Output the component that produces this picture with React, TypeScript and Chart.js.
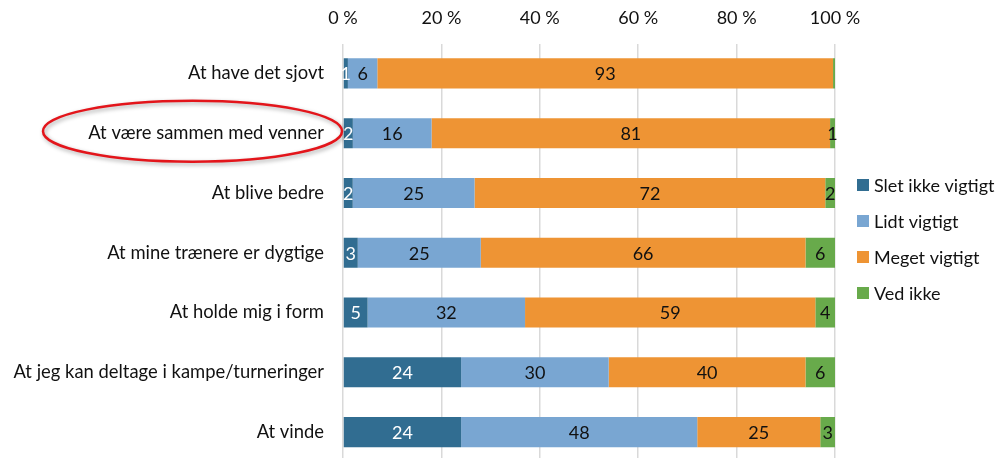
import React, { useEffect, useRef } from "react";
import { Chart, registerables } from "chart.js";

Chart.register(...registerables);

// Categories, top to bottom
const categories = [
  "At have det sjovt",
  "At være sammen med venner",
  "At blive bedre",
  "At mine trænere er dygtige",
  "At holde mig i form",
  "At jeg kan deltage i kampe/turneringer",
  "At vinde",
];

const seriesNames = ["Slet ikke vigtigt", "Lidt vigtigt", "Meget vigtigt", "Ved ikke"];
const seriesColors = ["#316d91", "#79a6d2", "#ee9434", "#68aa4b"];

// Answer shares in percent
const sletIkkeVigtigt = [1, 2, 2, 3, 5, 24, 24];
const lidtVigtigt = [6, 16, 25, 25, 32, 30, 48];
const megetVigtigt = [93, 81, 72, 66, 59, 40, 25];
const vedIkke = [0.4, 1, 2, 6, 4, 6, 3];

const xTicks = [0, 20, 40, 60, 80, 100];
const highlightedCategory = "At være sammen med venner";

const FONT = 'Lato, "Open Sans", sans-serif';
const TEXT = "#111111";

const series = [sletIkkeVigtigt, lidtVigtigt, megetVigtigt, vedIkke];

// Row totals, used to scale each row to 100 % (stacked percent bars)
const rowTotals = categories.map((_, i) => series.reduce((s, arr) => s + arr[i], 0));

const valueLabels = {
  id: "valueLabels",
  afterDatasetsDraw(chart: any) {
    const ctx = chart.ctx;
    ctx.save();
    ctx.font = `18px ${FONT}`;
    ctx.textAlign = "center";
    ctx.textBaseline = "middle";
    chart.data.datasets.forEach((ds: any, di: number) => {
      const meta = chart.getDatasetMeta(di);
      meta.data.forEach((bar: any, i: number) => {
        const raw = ds.rawValues[i];
        const rounded = Math.round(raw);
        if (!rounded) return;
        const c = bar.getCenterPoint();
        ctx.fillStyle = di === 0 ? "#ffffff" : TEXT;
        ctx.fillText(String(rounded), c.x, c.y + 1);
      });
    });
    ctx.restore();
  },
};

const sideLegend = {
  id: "sideLegend",
  afterDraw(chart: any) {
    const { ctx, chartArea } = chart;
    ctx.save();
    ctx.font = `18px ${FONT}`;
    ctx.textAlign = "left";
    ctx.textBaseline = "middle";
    chart.data.datasets.forEach((ds: any, i: number) => {
      const y = chartArea.top + 141.5 + i * 36;
      const x = chartArea.right + 22;
      ctx.fillStyle = ds.backgroundColor;
      ctx.fillRect(x, y - 6, 12, 12);
      ctx.fillStyle = TEXT;
      ctx.fillText(ds.label, x + 17, y + 1);
    });
    ctx.restore();
  },
};

const highlightRing = {
  id: "highlightRing",
  afterDraw(chart: any) {
    const { ctx, chartArea, scales } = chart;
    const idx = categories.indexOf(highlightedCategory);
    const cy = scales.y.getPixelForValue(idx) - 2;
    const cx = chartArea.left - 150.5;
    ctx.save();
    ctx.beginPath();
    ctx.ellipse(cx, cy, 149.5, 30.5, 0, 0, Math.PI * 2);
    ctx.shadowColor = "rgba(0,0,0,0.35)";
    ctx.shadowBlur = 4;
    ctx.shadowOffsetX = 1.5;
    ctx.shadowOffsetY = 2;
    ctx.strokeStyle = "#e3151b";
    ctx.lineWidth = 2.5;
    ctx.stroke();
    ctx.restore();
  },
};

export default function App() {
  const canvasRef = useRef<HTMLCanvasElement | null>(null);

  useEffect(() => {
    const canvas = canvasRef.current;
    if (!canvas) return;
    const chart = new Chart(canvas, {
      type: "bar",
      data: {
        labels: categories,
        datasets: series.map((arr, si) => ({
          label: seriesNames[si],
          data: arr.map((v, i) => (v / rowTotals[i]) * 100),
          rawValues: arr,
          backgroundColor: seriesColors[si],
          borderWidth: 0,
          barPercentage: 0.503,
          categoryPercentage: 1,
        })) as any,
      },
      options: {
        indexAxis: "y",
        responsive: false,
        animation: false,
        devicePixelRatio: 1,
        layout: { padding: { top: 0, left: 0, right: 162, bottom: 0 } },
        plugins: {
          legend: { display: false },
          tooltip: { enabled: false },
        },
        scales: {
          x: {
            position: "top",
            stacked: true,
            min: 0,
            max: 100,
            afterBuildTicks(scale: any) {
              scale.ticks = xTicks.map((v) => ({ value: v }));
            },
            afterFit(scale: any) {
              scale.height = 43.5;
              scale.paddingLeft = 0;
              scale.paddingRight = 0;
            },
            ticks: {
              padding: 15,
              color: TEXT,
              font: { family: FONT, size: 18 },
              callback: (v: any) => `${v} %`,
            },
            grid: { color: "#d9d9d9", lineWidth: 1.5, drawTicks: false },
            border: { display: false },
          },
          y: {
            stacked: true,
            afterFit(scale: any) {
              scale.width = 343;
              scale.paddingTop = 0;
              scale.paddingBottom = 0;
            },
            ticks: {
              padding: 19,
              color: TEXT,
              font: { family: FONT, size: 18.4 },
            },
            grid: { display: false, drawTicks: false },
            border: { display: false },
          },
        },
      } as any,
      plugins: [valueLabels, sideLegend, highlightRing],
    });
    return () => chart.destroy();
  }, []);

  return (
    <div
      style={{
        position: "absolute",
        left: 0,
        top: 0,
        width: 997,
        height: 458,
        overflow: "hidden",
        background: "#ffffff",
      }}
    >
      <canvas ref={canvasRef} width={997} height={462} style={{ display: "block" }} />
    </div>
  );
}
